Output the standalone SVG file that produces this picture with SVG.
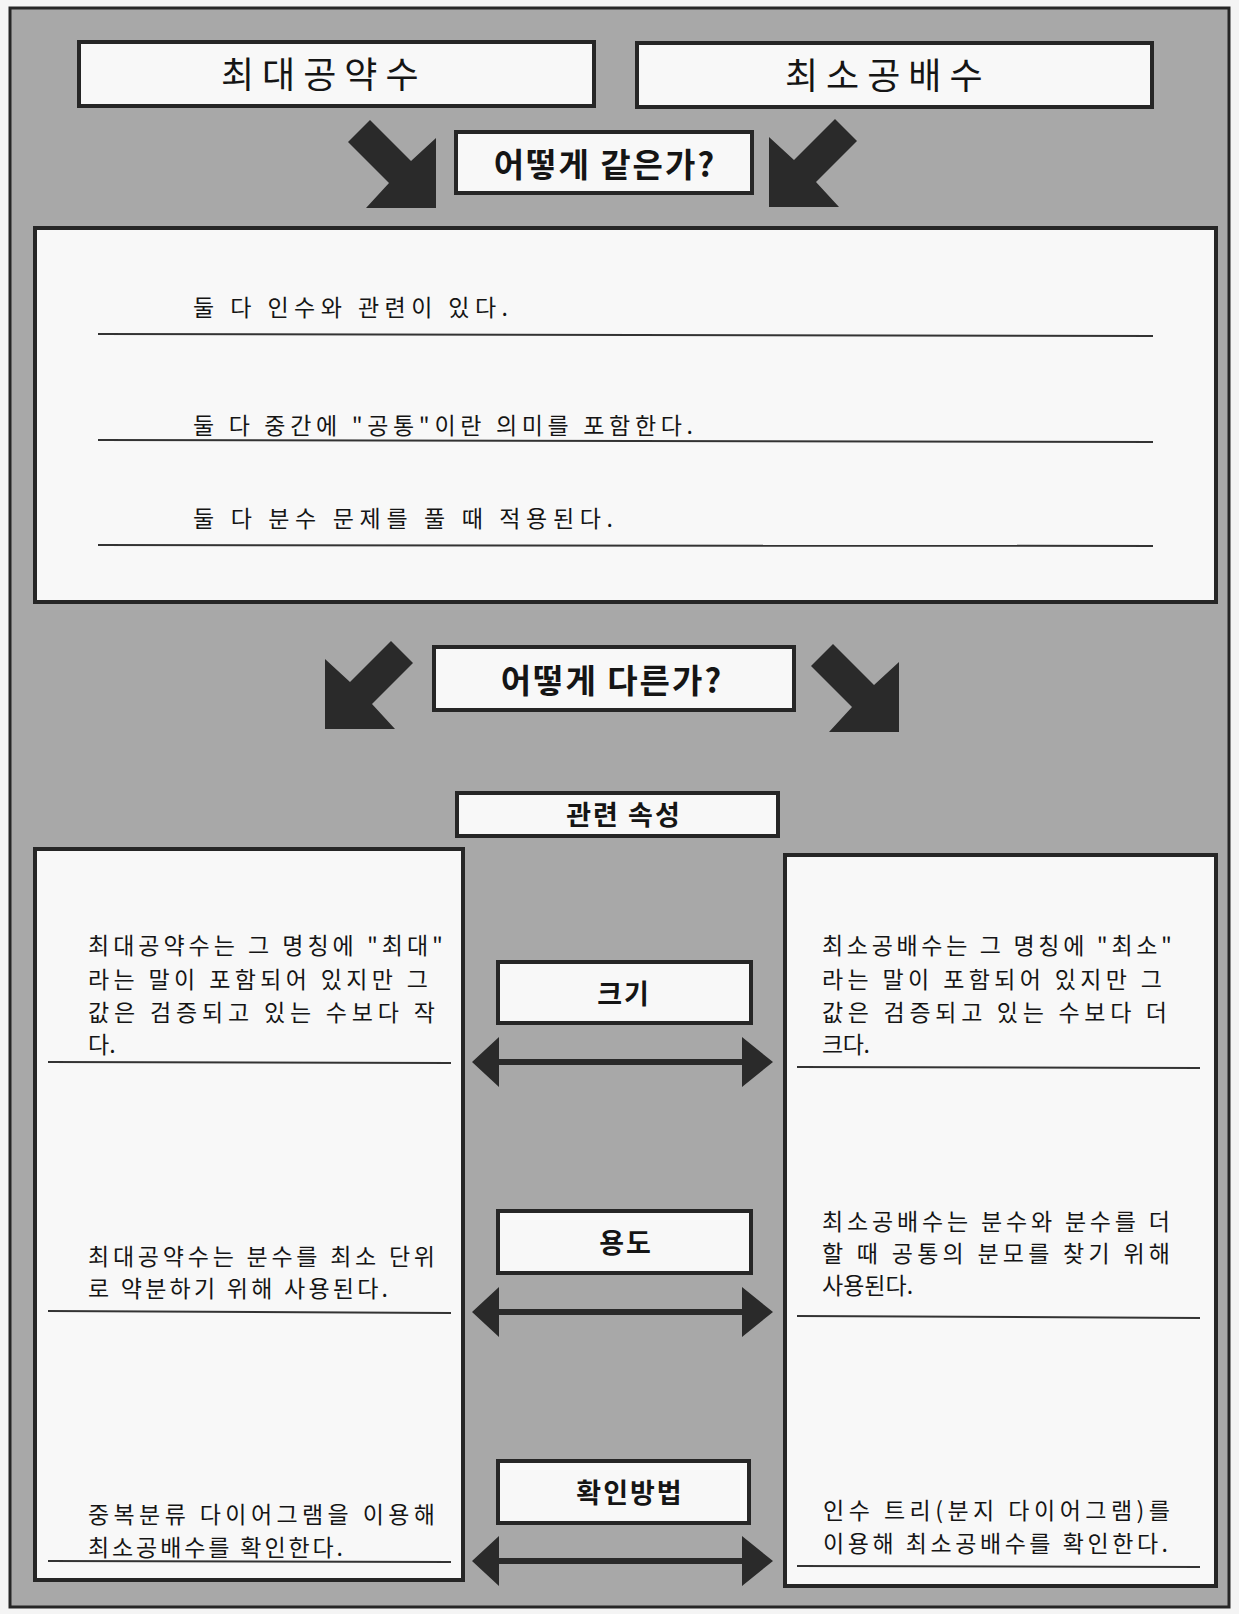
<svg xmlns="http://www.w3.org/2000/svg" width="1239" height="1614" viewBox="0 0 1239 1614">
<style>
.frame{fill:#a8a8a8;stroke:#262626;stroke-width:3}
.box{fill:#f8f8f8;stroke:#262626;stroke-width:4}
.t{font-family:"Noto Sans CJK KR","Noto Sans",sans-serif;fill:#151515}
.title{font-size:36px;letter-spacing:8px}
.q{font-size:33px;font-weight:700;text-anchor:middle;letter-spacing:2px}
.lbl{font-size:27px;font-weight:700;text-anchor:middle;letter-spacing:2px}
.hw{font-size:23px;font-weight:400}
.rule{stroke:#333;stroke-width:2;fill:none}
.arr{fill:#2a2a2a}
</style>
<defs>
<path id="diag" d="M-88,-66 L-66,-88 L-25,-47 L0,-70 L0,0 L-70,0 L-47,-25 Z"/>
<path id="dbl" d="M472,0 L499,-25 L499,-3 L742,-3 L742,-25 L773,0 L742,25 L742,3 L499,3 L499,25 Z"/>
</defs>
<rect x="0" y="0" width="1239" height="1614" fill="#f4f4f4"/>
<rect class="frame" x="10" y="8" width="1219" height="1599"/>

<g id="gcf-title">
<rect class="box" x="79" y="42" width="515" height="64"/>
<text class="t title" x="221" y="88">최대공약수</text>
</g>
<g id="lcm-title">
<rect class="box" x="637" y="43" width="515" height="64"/>
<text class="t title" x="785" y="89">최소공배수</text>
</g>
<g id="how-same">
<rect class="box" x="456" y="132" width="296" height="61"/>
<text class="t q" x="605" y="177">어떻게 같은가?</text>
</g>
<g id="same-box">
<rect class="box" x="35" y="228" width="1181" height="374"/>
<text class="t hw" x="193" y="316" textLength="315" lengthAdjust="spacing">둘 다 인수와 관련이 있다.</text>
<line class="rule" x1="98" y1="334" x2="1153" y2="336"/>
<text class="t hw" x="193" y="434" textLength="500" lengthAdjust="spacing">둘 다 중간에 "공통"이란 의미를 포함한다.</text>
<line class="rule" x1="98" y1="440" x2="1153" y2="442"/>
<text class="t hw" x="193" y="527" textLength="420" lengthAdjust="spacing">둘 다 분수 문제를 풀 때 적용된다.</text>
<line class="rule" x1="98" y1="545" x2="1153" y2="546"/>
</g>
<g id="how-diff">
<rect class="box" x="434" y="647" width="360" height="63"/>
<text class="t q" x="612" y="693">어떻게 다른가?</text>
</g>
<g id="attr">
<rect class="box" x="457" y="793" width="321" height="43"/>
<text class="t lbl" x="624" y="825">관련 속성</text>
</g>
<g id="gcf-box">
<rect class="box" x="35" y="849" width="428" height="731"/>
<text class="t hw" x="88" y="954" textLength="355" lengthAdjust="spacing">최대공약수는 그 명칭에 "최대"</text>
<text class="t hw" x="88" y="988" textLength="340" lengthAdjust="spacing">라는 말이 포함되어 있지만 그</text>
<text class="t hw" x="88" y="1021" textLength="347" lengthAdjust="spacing">값은 검증되고 있는 수보다 작</text>
<text class="t hw" x="88" y="1053">다.</text>
<line class="rule" x1="48" y1="1062" x2="451" y2="1063"/>
<text class="t hw" x="88" y="1265" textLength="347" lengthAdjust="spacing">최대공약수는 분수를 최소 단위</text>
<text class="t hw" x="88" y="1297" textLength="300" lengthAdjust="spacing">로 약분하기 위해 사용된다.</text>
<line class="rule" x1="48" y1="1311" x2="451" y2="1313"/>
<text class="t hw" x="88" y="1523" textLength="347" lengthAdjust="spacing">중복분류 다이어그램을 이용해</text>
<text class="t hw" x="88" y="1556" textLength="255" lengthAdjust="spacing">최소공배수를 확인한다.</text>
<line class="rule" x1="48" y1="1561" x2="451" y2="1562"/>
</g>
<g id="lcm-box">
<rect class="box" x="785" y="855" width="431" height="731"/>
<text class="t hw" x="822" y="954" textLength="350" lengthAdjust="spacing">최소공배수는 그 명칭에 "최소"</text>
<text class="t hw" x="822" y="988" textLength="340" lengthAdjust="spacing">라는 말이 포함되어 있지만 그</text>
<text class="t hw" x="822" y="1021" textLength="345" lengthAdjust="spacing">값은 검증되고 있는 수보다 더</text>
<text class="t hw" x="822" y="1053" textLength="48" lengthAdjust="spacing">크다.</text>
<line class="rule" x1="797" y1="1067" x2="1200" y2="1068"/>
<text class="t hw" x="822" y="1230" textLength="348" lengthAdjust="spacing">최소공배수는 분수와 분수를 더</text>
<text class="t hw" x="822" y="1262" textLength="348" lengthAdjust="spacing">할 때 공통의 분모를 찾기 위해</text>
<text class="t hw" x="822" y="1294">사용된다.</text>
<line class="rule" x1="797" y1="1316" x2="1200" y2="1318"/>
<text class="t hw" x="823" y="1519" textLength="347" lengthAdjust="spacing">인수 트리(분지 다이어그램)를</text>
<text class="t hw" x="823" y="1552" textLength="345" lengthAdjust="spacing">이용해 최소공배수를 확인한다.</text>
<line class="rule" x1="797" y1="1566" x2="1200" y2="1567"/>
</g>
<g id="size">
<rect class="box" x="498" y="962" width="253" height="61"/>
<text class="t lbl" x="624" y="1004">크기</text>
</g>
<g id="use">
<rect class="box" x="498" y="1211" width="253" height="62"/>
<text class="t lbl" x="626" y="1253">용도</text>
</g>
<g id="check">
<rect class="box" x="498" y="1461" width="251" height="62"/>
<text class="t lbl" x="630" y="1503">확인방법</text>
</g>
<g id="connectors">
<use href="#diag" class="arr" transform="translate(436,208)"/>
<use href="#diag" class="arr" transform="translate(769,207) scale(-1,1)"/>
<use href="#diag" class="arr" transform="translate(325,729) scale(-1,1)"/>
<use href="#diag" class="arr" transform="translate(899,732)"/>
<use href="#dbl" class="arr" transform="translate(0,1062)"/>
<use href="#dbl" class="arr" transform="translate(0,1312)"/>
<use href="#dbl" class="arr" transform="translate(0,1561)"/>
</g>
</svg>
